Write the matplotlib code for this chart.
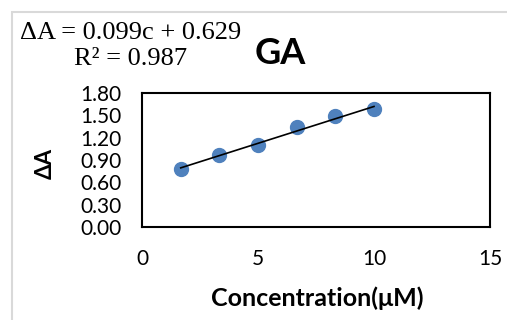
import matplotlib.pyplot as plt
import matplotlib.patches as patches
import numpy as np

conc = [1.67, 3.33, 5.0, 6.67, 8.33, 10.0]
dA = [0.78, 0.97, 1.10, 1.34, 1.49, 1.59]
slope = 0.099
intercept = 0.629
x_ticks = [0, 5, 10, 15]
y_ticks = [0.0, 0.3, 0.6, 0.9, 1.2, 1.5, 1.8]

fig = plt.figure(figsize=(5.07, 3.2), dpi=100)

# light grey chart-area border, open to the right and bottom
fig.patches.append(patches.Rectangle((12/507, -0.1), 1.2, 1 - 12/320 + 0.1,
                                     transform=fig.transFigure, fill=False,
                                     edgecolor='#d9d9d9', linewidth=1.5))

ax = fig.add_axes([142/507, 1 - 227/320, 348/507, 134/320])
ax.plot(conc, dA, 'o', color='#4F81BD', markersize=10, zorder=3)
xf = np.array([conc[0], conc[-1]])
ax.plot(xf, slope*xf + intercept, color='black', linewidth=1.2, zorder=4)

ax.set_xlim(0, 15)
ax.set_ylim(0, 1.8)
ax.set_xticks(x_ticks)
ax.set_yticks(y_ticks)
ax.set_yticklabels(['%.2f' % v for v in y_ticks])
ax.tick_params(length=0, labelsize=15)
ax.tick_params(axis='x', pad=16)
ax.tick_params(axis='y', pad=15)
for lab in ax.get_xticklabels() + ax.get_yticklabels():
    lab.set_fontfamily('Lato')
for s in ax.spines.values():
    s.set_linewidth(1.5)

fig.text(317/507, 1 - 298/320, 'Concentration(μM)', fontfamily='Lato',
         fontweight='bold', fontsize=18, ha='center', va='center')
fig.text(45/507, 1 - 163/320, 'ΔA', rotation=90, fontfamily='Lato',
         fontweight='bold', fontsize=16, ha='center', va='center')
fig.text(280/507, 1 - 53/320, 'GA', fontfamily='Lato', fontweight='bold',
         fontsize=26, ha='center', va='center')
fig.text(131/507, 1 - 46/320,
         'ΔA = %.3fc + %.3f\nR² = 0.987' % (slope, intercept),
         fontfamily='Liberation Serif', fontsize=19, ha='center', va='center',
         multialignment='center', linespacing=1.2)

fig.savefig('out.png', dpi=100)
